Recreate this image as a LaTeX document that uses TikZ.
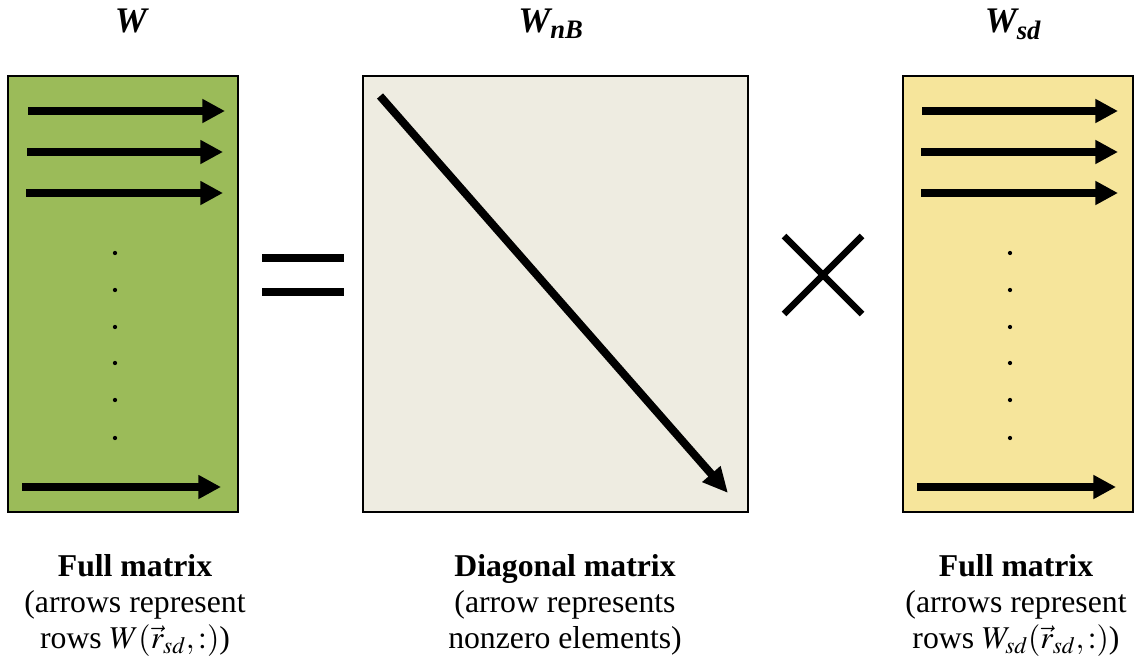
\documentclass[tikz,border=0pt]{standalone}
\usepackage{mathptmx}
\usepackage{fontspec}
\setmainfont{Liberation Serif}
\usepackage{tikz}
\usetikzlibrary{arrows.meta}
\usetikzlibrary{positioning}

\definecolor{fullgreen}{HTML}{9BBB59}
\definecolor{diagbeige}{HTML}{EEECE1}
\definecolor{fullyellow}{HTML}{F6E59B}

\tikzset{
    matbox/.style={draw=black, line width=2pt, inner sep=0pt, minimum height=327pt},
    rowarrow/.style={line width=6pt, -{Triangle[length=17pt, width=17pt]}},
    vdot/.style={fill=black, draw=none},
    bigsign/.style={line width=6pt},
    heading/.style={font=\fontsize{27}{30}\selectfont\bfseries\itshape, inner sep=0pt, anchor=base},
    caption/.style={font=\fontsize{23.8}{27}\selectfont, align=center, inner sep=0pt, anchor=north}
}

\begin{document}
\begin{tikzpicture}[x=0.75pt, y=-0.75pt]
        \useasboundingbox (0,0) rectangle (1141,660);
        \def\dotr{1.6pt} % radius of the dots
        % the three matrices
        \node[matbox, fill=fullgreen, minimum width=172.5pt] (W) at (123,294) {};
        \node[matbox, fill=diagbeige, minimum width=288.75pt] (WnB) at (555.5,294) {};
        \node[matbox, fill=fullyellow, minimum width=172.5pt] (Wsd) at (1018,294) {};
        % headings
        \node[heading] (Wlbl) at (131,33) {W};
        \node[heading] (WnBlbl) at (551,33) {W\textsubscript{nB}};
        \node[heading] (Wsdlbl) at (1013,33) {W\textsubscript{sd}};
        % rows of W
        \foreach \y/\xa/\xb in {111/28/225, 152/27/223, 193/26/223, 487/22/221}
            \draw[rowarrow] (\xa,\y) -- (\xb,\y);
        % rows of W_sd
        \foreach \y/\xa/\xb in {111/922/1118, 152/921/1118, 193/921/1118, 487/917/1116}
            \draw[rowarrow] (\xa,\y) -- (\xb,\y);
        % dots between the rows
        \foreach \y in {253,290,327,363,400,438} {
            \fill[vdot] (115,\y) circle (\dotr);
            \fill[vdot] (1010,\y) circle (\dotr);
        }
        % diagonal of W_nB
        \coordinate (D1) at (380,96);
        \coordinate (D2) at (728,493);
        \draw[line width=6pt, -{Triangle[length=19pt, width=17pt]}] (D1) -- (D2);
        % equals sign
        \draw[bigsign] (262,258) -- (344,258);
        \draw[bigsign] (262,292) -- (344,292);
        % times sign
        \draw[line width=5pt] (784,236) -- (862,314);
        \draw[line width=5pt] (862,236) -- (784,314);
        % captions
        \node[caption] (Wcap) at (135,554) {\textbf{Full matrix}\\(arrows represent\\rows $W(\vec{r}_{sd},:)$)};
        \node[caption] (WnBcap) at (565,554) {\textbf{Diagonal matrix}\\(arrow represents\\nonzero elements)};
        \node[caption] (Wsdcap) at (1016,554) {\textbf{Full matrix}\\(arrows represent\\rows $W_{sd}(\vec{r}_{sd},:)$)};
    \end{tikzpicture}
\end{document}
